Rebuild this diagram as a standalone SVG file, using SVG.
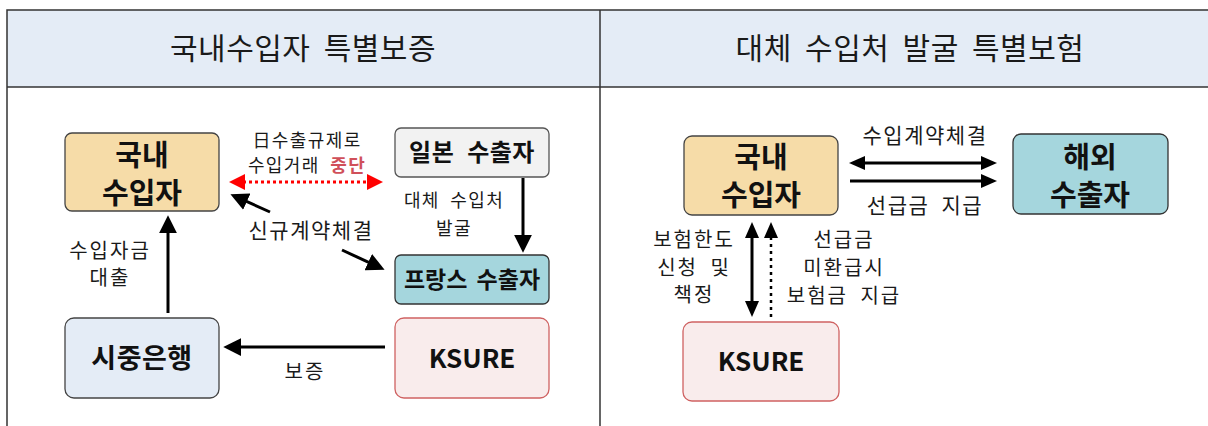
<svg xmlns="http://www.w3.org/2000/svg" width="1208" height="426" viewBox="0 0 1208 426">
<style>
.t{font-family:"Noto Sans CJK KR","Noto Sans",sans-serif;fill:#1a1a1a;text-anchor:middle}
.title{font-size:30px;letter-spacing:0.5px;word-spacing:6px}
.lbl{font-size:20px;letter-spacing:2px;word-spacing:6px}
.sm{font-size:18px;letter-spacing:1.4px;word-spacing:5px}
.nb{font-weight:bold;fill:#111}
.box{stroke-width:1.3}
.wheat{fill:#F6DCA8;stroke:#444}
.grey{fill:#F2F2F2;stroke:#555}
.teal{fill:#A5D6DD;stroke:#333}
.pink{fill:#F9ECEC;stroke:#CF6262}
.blue{fill:#E4ECF6;stroke:#444}
.ln{stroke:#000;stroke-width:3;fill:none}
</style>
<defs>
<marker id="ah" markerUnits="userSpaceOnUse" markerWidth="18" markerHeight="18" viewBox="0 0 16 16" refX="2" refY="8" orient="auto-start-reverse">
<path d="M0,0 L16,8 L0,16 z" fill="#000"/>
</marker>
<marker id="ahs" markerUnits="userSpaceOnUse" markerWidth="16" markerHeight="14" viewBox="0 0 16 14" refX="2" refY="7" orient="auto-start-reverse">
<path d="M0,0 L16,7 L0,14 z" fill="#000"/>
</marker>
<marker id="ahr" markerUnits="userSpaceOnUse" markerWidth="16" markerHeight="16" viewBox="0 0 16 16" refX="2" refY="8" orient="auto-start-reverse">
<path d="M0,0 L16,8 L0,16 z" fill="#FF0000"/>
</marker>
</defs>
<rect x="0" y="0" width="1208" height="426" fill="#fff"/>
<g id="frame">
<rect x="7" y="10" width="1210" height="77" fill="#E4ECF6"/>
<rect x="7" y="10" width="1210" height="430" fill="none" stroke="#333" stroke-width="1.5"/>
<line x1="7" y1="87" x2="1208" y2="87" stroke="#333" stroke-width="1.5"/>
<line x1="600" y1="10" x2="600" y2="426" stroke="#333" stroke-width="1.5"/>
<text class="t title" x="303" y="59">국내수입자 특별보증</text>
<text class="t title" x="910" y="59">대체 수입처 발굴 특별보험</text>
</g>
<g id="connectors">
<line x1="243" y1="182" x2="369" y2="182" stroke="#FF0000" stroke-width="3" stroke-dasharray="3 3" marker-start="url(#ahr)" marker-end="url(#ahr)"/>
<line class="ln" x1="523" y1="178" x2="523" y2="237" marker-end="url(#ah)"/>
<line class="ln" x1="270" y1="212" x2="244.8" y2="200.7" marker-end="url(#ah)"/>
<line class="ln" x1="342" y1="250" x2="370.3" y2="263.1" marker-end="url(#ah)"/>
<line class="ln" x1="168" y1="313" x2="168" y2="231" marker-end="url(#ah)"/>
<line class="ln" x1="385" y1="347" x2="239" y2="347" marker-end="url(#ah)"/>
<line class="ln" x1="863" y1="163" x2="983" y2="163" marker-start="url(#ahs)" marker-end="url(#ahs)"/>
<line class="ln" x1="850" y1="181" x2="983" y2="181" marker-end="url(#ahs)"/>
<line class="ln" x1="752" y1="236" x2="752" y2="303" marker-start="url(#ahs)" marker-end="url(#ahs)"/>
<line x1="771" y1="317" x2="771" y2="236" stroke="#000" stroke-width="2.5" stroke-dasharray="3 4" marker-end="url(#ahs)"/>
<text class="t sm" x="307" y="147">日수출규제로</text>
<text class="t sm" x="307" y="172">수입거래 <tspan font-weight="bold" fill="#D0505A">중단</tspan></text>
<text class="t sm" x="454" y="207">대체 수입처</text>
<text class="t sm" x="454" y="235">발굴</text>
<text class="t" font-size="21" letter-spacing="1.5" x="311" y="238">신규계약체결</text>
<text class="t lbl" x="110" y="258">수입자금</text>
<text class="t lbl" x="110" y="285">대출</text>
<text class="t lbl" x="305" y="379">보증</text>
<text class="t" font-size="21" letter-spacing="1.5" x="925" y="143">수입계약체결</text>
<text class="t" font-size="21" letter-spacing="1.5" word-spacing="6" x="925" y="213">선급금 지급</text>
<text class="t lbl" x="694" y="247">보험한도</text>
<text class="t lbl" x="694" y="275">신청 및</text>
<text class="t lbl" x="694" y="302">책정</text>
<text class="t lbl" x="844" y="247">선급금</text>
<text class="t lbl" x="844" y="275">미환급시</text>
<text class="t lbl" x="844" y="303">보험금 지급</text>
</g>
<g id="importer-left">
<rect class="box wheat" x="65" y="133" width="154" height="78" rx="7"/>
<text class="t nb" font-size="29" x="142" y="166">국내</text>
<text class="t nb" font-size="29" x="142" y="204">수입자</text>
</g>
<g id="japan-exporter">
<rect class="box grey" x="395" y="128" width="154" height="49" rx="6"/>
<text class="t nb" font-size="24" letter-spacing="0.5" word-spacing="7" x="472" y="161">일본 수출자</text>
</g>
<g id="france-exporter">
<rect class="box teal" x="395" y="255" width="154" height="49" rx="6"/>
<text class="t nb" font-size="23" word-spacing="4" x="472" y="288">프랑스 수출자</text>
</g>
<g id="ksure-left">
<rect class="box pink" x="395" y="318" width="154" height="80" rx="9"/>
<text class="t nb" font-size="26" x="472" y="368">KSURE</text>
</g>
<g id="bank">
<rect class="box blue" x="65" y="318" width="154" height="80" rx="9"/>
<text class="t nb" font-size="27" letter-spacing="0.5" x="142" y="368">시중은행</text>
</g>
<g id="importer-right">
<rect class="box wheat" x="684" y="136" width="154" height="79" rx="8"/>
<text class="t nb" font-size="29" x="761" y="168">국내</text>
<text class="t nb" font-size="29" x="761" y="206">수입자</text>
</g>
<g id="overseas-exporter">
<rect class="box teal" x="1013" y="134" width="155" height="80" rx="8"/>
<text class="t nb" font-size="29" x="1090" y="168">해외</text>
<text class="t nb" font-size="29" x="1090" y="206">수출자</text>
</g>
<g id="ksure-right">
<rect class="box pink" x="683" y="322" width="156" height="79" rx="9"/>
<text class="t nb" font-size="26" x="761" y="371">KSURE</text>
</g>
</svg>
